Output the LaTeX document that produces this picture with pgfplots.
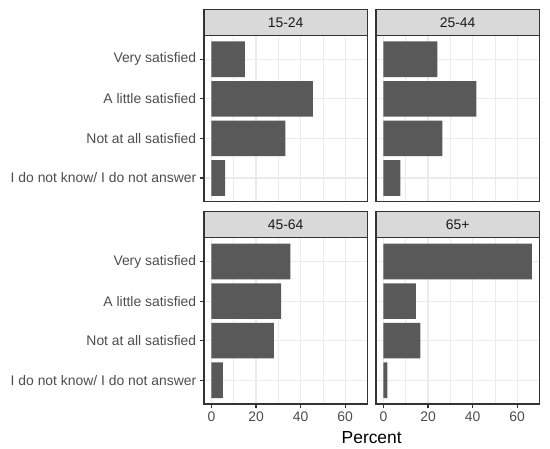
\documentclass[border=0pt]{standalone}
\usepackage{fontspec}
\setmainfont{Liberation Sans}
\usepackage{pgfplots}
\pgfplotsset{compat=1.18}

\definecolor{barfill}{HTML}{595959}
\definecolor{gridcol}{HTML}{EBEBEB}
\definecolor{framecol}{HTML}{333333}
\definecolor{stripfill}{HTML}{D9D9D9}
\definecolor{ticktext}{HTML}{4D4D4D}
\definecolor{striptext}{HTML}{1A1A1A}

\newcommand{\tickfont}{\fontsize{13.9bp}{16bp}\selectfont}

\pgfplotsset{
  panel/.style={
    scale only axis, width=163.3bp, height=166.2bp,
    anchor=south west,
    xbar, bar width=0.9,
    xmin=-3.33, xmax=69.9, ymin=0.4, ymax=4.6,
    xtick={0,20,40,60}, minor xtick={10,30,50},
    ytick={1,2,3,4},
    xmajorgrids, ymajorgrids, xminorgrids,
    major grid style={gridcol, line width=1.1bp},
    minor grid style={gridcol, line width=0.55bp},
    axis line style={framecol, line width=1.1bp},
    tick align=outside, major tick length=4.3bp, minor tick length=0pt,
    every tick/.style={framecol, line width=1.1bp},
    xtick pos=bottom, ytick pos=left,
    ticklabel style={font=\tickfont, text=ticktext},
    /pgf/number format/assume math mode=true,
  },
  leftcol/.style={
    yticklabels={I do not know/ I do not answer, Not at all satisfied,
                 A little satisfied, Very satisfied},
  },
  rightcol/.style={
    yticklabels={}, ytick style={/pgfplots/major tick length=0pt},
  },
  toprow/.style={
    xticklabels={}, xtick style={/pgfplots/major tick length=0pt},
  },
  bars/.style={fill=barfill, draw=none},
}

\begin{document}
\begin{tikzpicture}
  \useasboundingbox (0,0) rectangle (550bp,449bp);

  % 15-24
  \begin{axis}[panel, leftcol, toprow, at={(204bp,247.3bp)}]
    \addplot[bars] coordinates {(15.0,4) (45.5,3) (33.2,2) (6.1,1)};
  \end{axis}
  % 25-44
  \begin{axis}[panel, rightcol, toprow, at={(376bp,247.3bp)}]
    \addplot[bars] coordinates {(24.2,4) (41.7,3) (26.4,2) (7.6,1)};
  \end{axis}
  % 45-64
  \begin{axis}[panel, leftcol, at={(204bp,45bp)}]
    \addplot[bars] coordinates {(35.4,4) (31.3,3) (28.0,2) (5.1,1)};
  \end{axis}
  % 65+
  \begin{axis}[panel, rightcol, at={(376bp,45bp)}]
    \addplot[bars] coordinates {(66.6,4) (14.6,3) (16.6,2) (1.8,1)};
  \end{axis}

  % facet strips
  \tikzset{strip/.style={fill=stripfill, draw=framecol, line width=1.1bp}}
  \draw[strip] (204bp,413.5bp) rectangle (367.3bp,439.9bp);
  \node[text=striptext, font=\tickfont] at (285.65bp,426.7bp) {15-24};
  \draw[strip] (376bp,413.5bp) rectangle (539.3bp,439.9bp);
  \node[text=striptext, font=\tickfont] at (457.65bp,426.7bp) {25-44};
  \draw[strip] (204bp,211.2bp) rectangle (367.3bp,237.6bp);
  \node[text=striptext, font=\tickfont] at (285.65bp,224.4bp) {45-64};
  \draw[strip] (376bp,211.2bp) rectangle (539.3bp,237.6bp);
  \node[text=striptext, font=\tickfont] at (457.65bp,224.4bp) {65+};

  \node[anchor=base, font=\fontsize{17.4bp}{20bp}\selectfont] at (371.7bp,5.7bp) {Percent};
\end{tikzpicture}
\end{document}
